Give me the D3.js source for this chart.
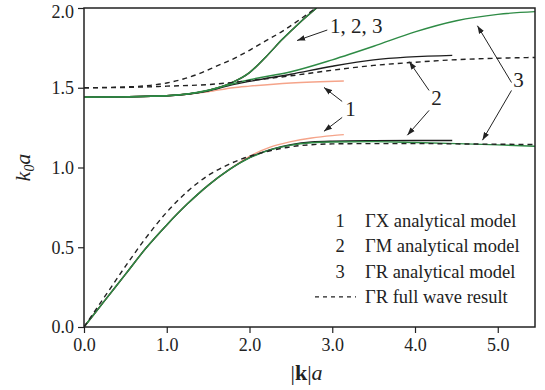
<!DOCTYPE html>
<html>
<head>
<meta charset="utf-8">
<script src="https://cdn.jsdelivr.net/npm/d3@7"></script>
<style>
  body { margin: 0; background: #fff; }
  #vis { width: 545px; height: 390px; }
  text { font-family: 'Liberation Serif', 'Times New Roman', serif; fill: #222; }
</style>
</head>
<body>
<div id="vis"></div>
<script>
// |k|a sample points and k0a values
var kLower = [0, 0.25, 0.5, 0.75, 1.0, 1.25, 1.5, 1.75, 2.0, 2.25, 2.5, 2.75, 3.0, 3.5, 4.0, 4.5, 5.0, 5.45];
var gxLower = [0, 0.165, 0.33, 0.495, 0.64, 0.772, 0.888, 0.985, 1.07, 1.128, 1.162, 1.185, 1.2, 1.206];
var gmLower = [0, 0.165, 0.33, 0.495, 0.64, 0.772, 0.888, 0.985, 1.062, 1.112, 1.143, 1.16, 1.165, 1.168, 1.169, 1.169];
var grLower = [0, 0.165, 0.33, 0.495, 0.64, 0.772, 0.888, 0.985, 1.06, 1.11, 1.14, 1.155, 1.16, 1.162, 1.157, 1.15, 1.142, 1.133];
var fwLower = [0, 0.19, 0.38, 0.56, 0.72, 0.85, 0.95, 1.02, 1.07, 1.105, 1.13, 1.143, 1.148, 1.15, 1.15, 1.148, 1.146, 1.144];
var kxEnd = 3.14;   // end of ΓX branch
var kmEnd = 4.45;   // end of ΓM branch

var kSteep = [0, 0.5, 1.0, 1.2, 1.4, 1.6, 1.8, 2.0, 2.2, 2.4, 2.6, 2.81];
var gxSteep = [1.441, 1.443, 1.45, 1.458, 1.472, 1.497, 1.535, 1.595, 1.695, 1.805, 1.905, 2.0];
var gmSteep = [1.441, 1.443, 1.45, 1.458, 1.472, 1.497, 1.535, 1.595, 1.695, 1.805, 1.905, 2.0];
var grSteep = [1.441, 1.443, 1.45, 1.458, 1.472, 1.497, 1.535, 1.595, 1.695, 1.805, 1.905, 2.0];

var kFlat = [0, 0.5, 1.0, 1.5, 1.8, 2.0, 2.5, 3.0, 3.5, 4.0, 4.5, 5.0, 5.45];
var gxFlat = [1.441, 1.443, 1.45, 1.475, 1.50, 1.51, 1.53, 1.542];
var gmFlat = [1.441, 1.443, 1.45, 1.48, 1.52, 1.54, 1.585, 1.635, 1.675, 1.703];
var grFlat = [1.441, 1.443, 1.45, 1.485, 1.525, 1.55, 1.60, 1.675, 1.76, 1.85, 1.92, 1.96, 1.977];

var kFwSteep = [0, 0.5, 0.8, 1.0, 1.2, 1.4, 1.6, 1.8, 2.0, 2.2, 2.4, 2.6, 2.8];
var fwSteep = [1.5, 1.505, 1.515, 1.53, 1.555, 1.59, 1.635, 1.68, 1.735, 1.795, 1.855, 1.925, 2.0];
var kFwFlat = [0, 0.5, 1.0, 1.5, 2.0, 2.5, 3.0, 3.5, 4.0, 4.5, 5.0, 5.45];
var fwFlat = [1.5, 1.502, 1.51, 1.52, 1.545, 1.575, 1.61, 1.64, 1.66, 1.676, 1.685, 1.69];

var xTicks = [0, 1, 2, 3, 4, 5];
var yTicks = [0, 0.5, 1.0, 1.5, 2.0];

var legendNums = ['1', '2', '3', ''];
var legendLabels = ['ΓX analytical model', 'ΓM analytical model', 'ΓR analytical model', 'ΓR full wave result'];

// annotation text [k, k0a, label] and arrows [fromK, fromV, toK, toV]
var notes = [[3.29, 1.845, '1, 2, 3'], [3.22, 1.325, '1'], [4.26, 1.39, '2'], [5.25, 1.505, '3']];
var arrows = [
    [2.94, 1.862, 2.575, 1.796],
    [3.12, 1.414, 2.90, 1.502],
    [3.12, 1.314, 2.90, 1.227],
    [4.17, 1.483, 3.93, 1.664],
    [4.17, 1.358, 3.907, 1.202],
    [5.166, 1.533, 4.754, 1.889],
    [5.166, 1.483, 4.815, 1.171]
];

var colors = { gx: '#f5a48a', gm: '#1e1e1e', gr: '#2e8b45', fw: '#222' };

var margin = { top: 8, right: 10, bottom: 63, left: 84 };
var width = 545 - margin.left - margin.right;
var height = 390 - margin.top - margin.bottom;

var svg = d3.select('#vis')
    .append('svg')
    .attr('width', 545)
    .attr('height', 390)
    .append('g')
    .attr('transform', 'translate(' + margin.left + ',' + margin.top + ')');

var x_scale = d3.scaleLinear().domain([0, 5.45]).range([0, width]);
var y_scale = d3.scaleLinear().domain([0, 2.0]).range([height, 0]);

svg.append('defs').append('clipPath').attr('id', 'clip')
    .append('rect').attr('width', width).attr('height', height);

var line = d3.line()
    .x(function(d) { return x_scale(d[0]); })
    .y(function(d) { return y_scale(d[1]); })
    .curve(d3.curveMonotoneX);

function pairs(ks, vs, kEnd) {
    var out = vs.map(function(v, i) { return [ks[i], v]; });
    if (kEnd !== undefined && out[out.length - 1][0] !== kEnd) {
        // the last value belongs to the branch end
        out[out.length - 1][0] = kEnd;
    }
    return out;
}

var series = [
    { d: pairs(kLower, gxLower, kxEnd), c: colors.gx },
    { d: pairs(kSteep, gxSteep), c: colors.gx },
    { d: pairs(kFlat, gxFlat, kxEnd), c: colors.gx },
    { d: pairs(kLower, gmLower, kmEnd), c: colors.gm },
    { d: pairs(kSteep, gmSteep), c: colors.gm },
    { d: pairs(kFlat, gmFlat, kmEnd), c: colors.gm },
    { d: pairs(kLower, grLower), c: colors.gr },
    { d: pairs(kSteep, grSteep), c: colors.gr },
    { d: pairs(kFlat, grFlat), c: colors.gr },
    { d: pairs(kLower, fwLower), c: colors.fw, dash: '5,4' },
    { d: pairs(kFwSteep, fwSteep), c: colors.fw, dash: '5,4' },
    { d: pairs(kFwFlat, fwFlat), c: colors.fw, dash: '5,4' }
];

svg.append('g').attr('clip-path', 'url(#clip)')
    .selectAll('.line')
    .data(series)
    .enter()
    .append('path')
    .attr('class', 'line')
    .attr('fill', 'none')
    .attr('stroke', function(d) { return d.c; })
    .attr('stroke-width', 1.4)
    .attr('stroke-dasharray', function(d) { return d.dash || null; })
    .attr('d', function(d) { return line(d.d); });

// axes
var x_axis = d3.axisBottom(x_scale).tickValues(xTicks).tickFormat(d3.format('.1f')).tickSizeOuter(0).tickSize(6).tickPadding(5);
var y_axis = d3.axisLeft(y_scale).tickValues(yTicks).tickFormat(d3.format('.1f')).tickSizeOuter(0).tickSize(6).tickPadding(4);

var gx = svg.append('g').attr('class', 'x axis')
    .attr('transform', 'translate(0,' + height + ')')
    .call(x_axis);
var gy = svg.append('g').attr('class', 'y axis').call(y_axis);

[gx, gy].forEach(function(g) {
    g.select('.domain').remove();
    g.selectAll('line').attr('stroke', '#222').attr('stroke-width', 1.2);
    g.selectAll('text').style('font-size', '18px').attr('fill', '#222')
        .style('font-family', "'Liberation Serif', 'Times New Roman', serif");
});

// keep the top label inside the window
gy.selectAll('.tick text')
    .filter(function(d) { return d === 2.0; })
    .attr('dy', '0.5em');

svg.append('rect')
    .attr('width', width)
    .attr('height', height)
    .attr('fill', 'none')
    .attr('stroke', '#222')
    .attr('stroke-width', 1.5);

// axis titles
var xt = svg.append('text')
    .attr('x', width / 2 - 3)
    .attr('y', height + 53)
    .attr('text-anchor', 'middle')
    .style('font-size', '22px');
xt.append('tspan').text('|');
xt.append('tspan').attr('font-weight', 'bold').text('k');
xt.append('tspan').text('|');
xt.append('tspan').attr('font-style', 'italic').text('a');

var yt = svg.append('text')
    .attr('transform', 'translate(' + (-54) + ',' + (height / 2) + ') rotate(-90)')
    .attr('text-anchor', 'middle')
    .style('font-size', '22px')
    .style('font-style', 'italic');
yt.append('tspan').text('k');
yt.append('tspan').attr('dy', 4).style('font-size', '14px').text('0');
yt.append('tspan').attr('dy', -4).text('a');

// annotations
svg.append('defs').append('marker')
    .attr('id', 'head')
    .attr('viewBox', '0 0 10 10')
    .attr('refX', 10).attr('refY', 5)
    .attr('markerWidth', 8).attr('markerHeight', 8)
    .attr('orient', 'auto')
    .append('path').attr('d', 'M0,1.5 L10,5 L0,8.5 Z').attr('fill', '#222');

svg.selectAll('.arrow')
    .data(arrows)
    .enter()
    .append('line')
    .attr('class', 'arrow')
    .attr('x1', function(d) { return x_scale(d[0]); })
    .attr('y1', function(d) { return y_scale(d[1]); })
    .attr('x2', function(d) { return x_scale(d[2]); })
    .attr('y2', function(d) { return y_scale(d[3]); })
    .attr('stroke', '#222')
    .attr('stroke-width', 1)
    .attr('marker-end', 'url(#head)');

svg.selectAll('.note')
    .data(notes)
    .enter()
    .append('text')
    .attr('class', 'note')
    .attr('x', function(d) { return x_scale(d[0]); })
    .attr('y', function(d) { return y_scale(d[1]); })
    .attr('text-anchor', 'middle')
    .style('font-size', '21px')
    .text(function(d) { return d[2]; });

// legend
var legend = svg.selectAll('.legend')
    .data(legendLabels)
    .enter()
    .append('g')
    .attr('class', 'legend')
    .attr('transform', function(d, i) { return 'translate(256,' + (213 + i * 25.3) + ')'; });

legend.append('text')
    .attr('x', 0)
    .attr('y', 6)
    .attr('text-anchor', 'middle')
    .style('font-size', '18.5px')
    .text(function(d, i) { return legendNums[i]; });

legend.filter(function(d, i) { return legendNums[i] === ''; })
    .append('line')
    .attr('x1', -25).attr('x2', 16)
    .attr('stroke', '#222')
    .attr('stroke-width', 1.2)
    .attr('stroke-dasharray', '4,4');

legend.append('text')
    .attr('x', 25)
    .attr('y', 6)
    .style('font-size', '18.5px')
    .text(function(d) { return d; });
</script>
</body>
</html>
